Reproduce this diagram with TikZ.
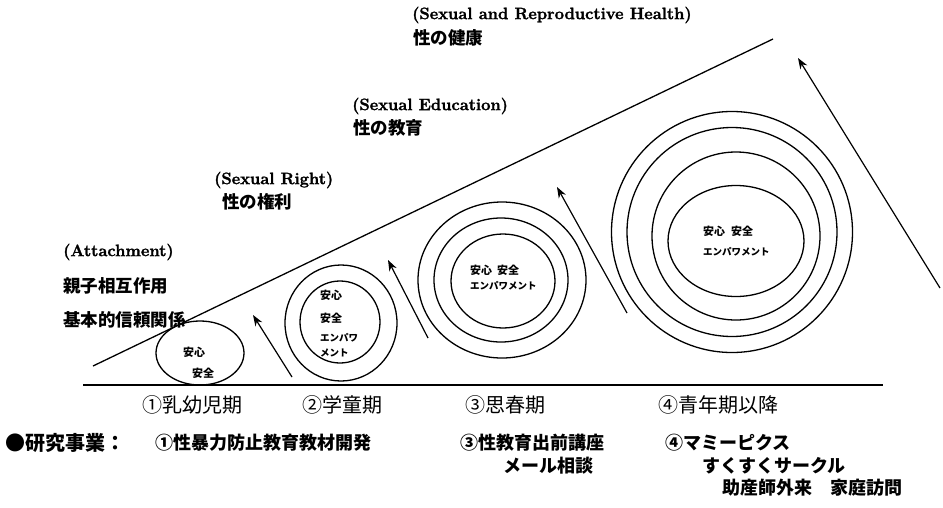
\documentclass[tikz,border=0pt]{standalone}
\usepackage{fontspec}
\newfontfamily\jp{Noto Sans CJK JP}
\newfontfamily\enf{Latin Modern Roman}[BoldFeatures={FakeBold=1.6}]
\usetikzlibrary{arrows.meta,shapes.geometric}
\tikzset{
  ring/.style={draw, ellipse, line width=1.3pt, inner sep=0pt},
  upar/.style={line width=1.2pt, -{Stealth[length=11pt,width=8pt]}},
  en/.style={anchor=west, inner sep=0pt, font=\enf\bfseries\fontsize{16.5}{18}\selectfont},
  jl/.style={anchor=west, inner sep=0pt, font=\jp\bfseries\fontsize{17.5}{19}\selectfont},
  stage/.style={anchor=west, inner sep=0pt, font=\jp\fontsize{20}{22}\selectfont},
  proj/.style={anchor=west, inner sep=0pt, font=\jp\bfseries\fontsize{18}{20}\selectfont},
  inn/.style={anchor=west, inner sep=0pt, font=\jp\bfseries\fontsize{11}{12}\selectfont},
  inns/.style={anchor=west, inner sep=0pt, font=\jp\bfseries\fontsize{9.5}{11}\selectfont},
}
\begin{document}
\begin{tikzpicture}[x=1pt,y=-1pt]
\useasboundingbox[fill=white] (0,0) rectangle (943,507);

% base line and rising line
\coordinate (b1) at (83,385);
\coordinate (b2) at (883,385);
\coordinate (d1) at (93,366);
\coordinate (d2) at (773,39);
\draw[line width=1.8pt] (b1) -- (b2);
\draw[line width=1.3pt] (d1) -- (d2);

% stage 1
\node[ring, minimum width=88pt, minimum height=64pt] (e1) at (200,353) {};
\node[inn] (e1a) at (183,352) {安心};
\node[inn] (e1b) at (192,373) {安全};

% stage 2
\node[ring, minimum width=112pt, minimum height=116pt] (c2o) at (341,323) {};
\node[ring, minimum width=80pt, minimum height=82pt] (c2i) at (340,322) {};
\node[inn] (c2a) at (320,295) {安心};
\node[inn] (c2b) at (320,318) {安全};
\node[inns] (c2c) at (320,338) {エンパワ};
\node[inns] (c2d) at (320,353) {メント};

% stage 3
\node[ring, minimum width=168pt, minimum height=156pt] (c3o) at (502,280) {};
\node[ring, minimum width=134pt, minimum height=124pt] (c3m) at (501,280) {};
\node[ring, minimum width=104pt, minimum height=94pt] (c3i) at (503,281) {};
\node[inn] (c3a) at (470,270) {安心\hspace{5pt}安全};
\node[inns] (c3b) at (470,286) {エンパワメント};

% stage 4
\node[ring, minimum width=241pt, minimum height=241pt] (c4o) at (732,232) {};
\node[ring, minimum width=210pt, minimum height=209pt] (c4m) at (732,232) {};
\node[ring, minimum width=168pt, minimum height=168pt] (c4n) at (736,236) {};
\node[ring, minimum width=136pt, minimum height=111pt] (c4i) at (736,241) {};
\node[inn] (c4a) at (703,231) {安心\hspace{6pt}安全};
\node[inns] (c4b) at (703,252) {エンパワメント};

% arrows
\coordinate (a1s) at (292,377); \coordinate (a1e) at (253,315);
\coordinate (a2s) at (428,338); \coordinate (a2e) at (388,260);
\coordinate (a3s) at (627,313); \coordinate (a3e) at (557,187);
\coordinate (a4s) at (940,288); \coordinate (a4e) at (798,58);
\draw[upar] (a1s) -- (a1e);
\draw[upar] (a2s) -- (a2e);
\draw[upar] (a3s) -- (a3e);
\draw[upar] (a4s) -- (a4e);

% upper labels
\node[en] (t1) at (63,252) {(Attachment)};
\node[jl] (t1a) at (63,286) {親子相互作用};
\node[jl] (t1b) at (63,320) {基本的信頼関係};
\node[en] (t2) at (214,180) {(Sexual Right)};
\node[jl] (t2a) at (222,202) {性の権利};
\node[en] (t3) at (352,106) {(Sexual Education)};
\node[jl] (t3a) at (353,128) {性の教育};
\node[en] (t4) at (412,15) {(Sexual and Reproductive Health)};
\node[jl] (t4a) at (413,38) {性の健康};

% stages
\node[stage] (s1) at (142,405) {①乳幼児期};
\node[stage] (s2) at (302,405) {②学童期};
\node[stage] (s3) at (465,405) {③思春期};
\node[stage] (s4) at (658,405) {④青年期以降};

% projects
\node[proj, font=\jp\bfseries\fontsize{20}{22}\selectfont] (p0) at (5,443) {●研究事業：};
\node[proj] (p1) at (155,443) {①性暴力防止教育教材開発};
\node[proj] (p3) at (460,443) {③性教育出前講座};
\node[proj] (p3b) at (503,466) {メール相談};
\node[proj] (p4) at (665,443) {④マミーピクス};
\node[proj] (p4b) at (702,466) {すくすくサークル};
\node[proj] (p4c) at (722,488) {助産師外来　家庭訪問};
\end{tikzpicture}
\end{document}
